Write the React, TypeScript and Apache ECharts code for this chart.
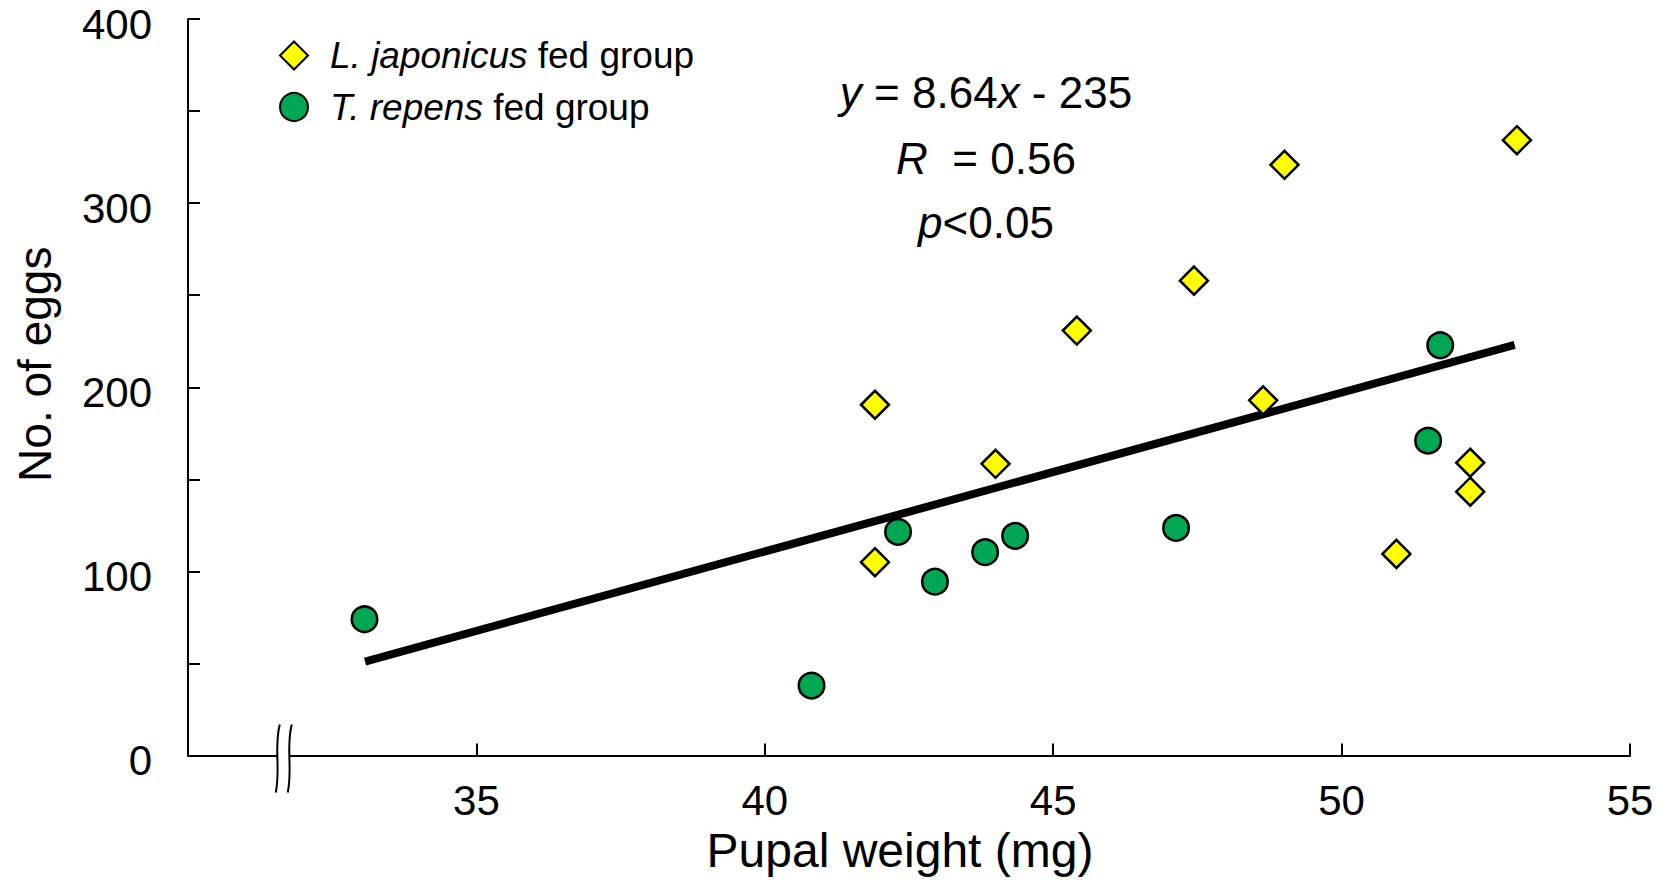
import React, { useEffect, useRef } from "react";
import * as echarts from "echarts";

// ---- Data ----
const japonicusX = [41.91, 41.91, 44.0, 45.41, 47.44, 48.64, 49.01, 50.95, 52.23, 52.23, 53.04];
const japonicusY = [190.5, 105.0, 158.4, 230.8, 257.9, 192.9, 320.8, 109.5, 159.0, 143.3, 334.2];
const repensX = [33.06, 40.81, 42.31, 42.95, 43.82, 44.34, 47.13, 51.5, 51.71];
const repensY = [74.0, 38.0, 121.5, 94.4, 110.4, 119.3, 123.6, 171.0, 222.8];
const fitLineX = [33.07, 53.0];
const fitLineY = [51, 223];
const seriesNames = ["L. japonicus fed group", "T. repens fed group"];
const italicParts = ["L. japonicus", "T. repens"];
const annotationLines = [
  "{i|y} = 8.64{i|x} - 235",
  "{i|R}  = 0.56",
  "{i|p}<0.05",
];
const xMin = 30;
const xMax = 55;
const xStep = 5;
const yMin = 0;
const yMax = 400;
const yStep = 50;
const yLabelStep = 100;
const breakAtX = 31.66;

const FONT = "'Liberation Sans', Arial, Helvetica, sans-serif";

export default function App() {
  const ref = useRef<HTMLDivElement>(null);

  useEffect(() => {
    document.body.style.margin = "0";
    const el = ref.current!;
    const chart = echarts.init(el, null, { renderer: "svg" });

    const pairs = (xs: number[], ys: number[]) => xs.map((x, i) => [x, ys[i]]);

    const option: any = {
      animation: false,
      backgroundColor: "#ffffff",
      textStyle: { fontFamily: FONT, color: "#000" },
      grid: { left: 188, right: 44, top: 19, bottom: 131.5, containLabel: false },
      legend: {
        data: seriesNames,
        orient: "vertical",
        left: 274,
        top: 32,
        itemWidth: 28,
        itemHeight: 28,
        itemGap: 14.5,
        selectedMode: false,
        formatter: (name: string) => {
          const idx = seriesNames.indexOf(name);
          const it = italicParts[idx];
          return "{i|" + it + "}" + name.slice(it.length);
        },
        textStyle: {
          fontFamily: FONT,
          fontSize: 37,
          color: "#000",
          padding: [0, 0, 0, 17],
          rich: {
            i: { fontStyle: "italic", fontSize: 37, fontFamily: FONT, color: "#000" },
          },
        },
      },
      xAxis: {
        type: "value",
        min: xMin,
        max: xMax,
        interval: xStep,
        name: "Pupal weight (mg)",
        nameLocation: "middle",
        nameGap: 68,
        nameTextStyle: { fontSize: 48, fontFamily: FONT, color: "#000", padding: [0, 18, 0, 0] },
        axisLine: { show: true, onZero: false, lineStyle: { color: "#000", width: 2 } },
        axisTick: { show: true, inside: true, length: 12, lineStyle: { color: "#000", width: 2 } },
        axisLabel: {
          fontSize: 42,
          fontFamily: FONT,
          color: "#000",
          margin: 24,
          formatter: (v: number) => (v === xMin ? "" : String(v)),
        },
        splitLine: { show: false },
      },
      yAxis: {
        type: "value",
        min: yMin,
        max: yMax,
        interval: yStep,
        name: "No. of eggs",
        nameLocation: "middle",
        nameGap: 130,
        nameTextStyle: { fontSize: 46, fontFamily: FONT, color: "#000", padding: [0, 0, 0, 46] },
        axisLine: { show: true, onZero: false, lineStyle: { color: "#000", width: 2 } },
        axisTick: { show: true, inside: true, length: 12, lineStyle: { color: "#000", width: 2 } },
        axisLabel: {
          fontSize: 42,
          fontFamily: FONT,
          color: "#000",
          margin: 36,
          verticalAlign: "top",
          lineHeight: 10,
          formatter: (v: number) => (v % yLabelStep === 0 ? String(v) : ""),
        },
        splitLine: { show: false },
      },
      series: [
        {
          name: "fit",
          type: "line",
          data: pairs(fitLineX, fitLineY),
          symbol: "none",
          lineStyle: { color: "#000", width: 8 },
          z: 1,
          silent: true,
        },
        {
          name: seriesNames[0],
          type: "scatter",
          symbol: "diamond",
          symbolSize: 28,
          data: pairs(japonicusX, japonicusY),
          itemStyle: { color: "#FFFF00", borderColor: "#000", borderWidth: 2.5, opacity: 1 },
          z: 3,
        },
        {
          name: seriesNames[1],
          type: "scatter",
          symbol: "circle",
          symbolSize: 25.5,
          data: pairs(repensX, repensY),
          itemStyle: { color: "#00A651", borderColor: "#000", borderWidth: 2.5, opacity: 1 },
          z: 3,
        },
      ],
    };

    chart.setOption(option);

    const [bx, by] = chart.convertToPixel({ gridIndex: 0 }, [breakAtX, 0]) as number[];
    const curve = (dx: number) => ({
      type: "bezierCurve",
      shape: {
        x1: bx + dx + 2,
        y1: by - 31,
        cpx1: bx + dx - 4,
        cpy1: by - 8,
        cpx2: bx + dx + 3,
        cpy2: by + 14,
        x2: bx + dx - 2,
        y2: by + 37,
      },
      style: { stroke: "#000", lineWidth: 2, fill: null },
      z: 10,
    });
    const rowY = [92, 158, 222];
    const cx = 986;

    chart.setOption({
      graphic: [
        {
          type: "rect",
          shape: { x: bx - 6, y: by - 4, width: 12, height: 8 },
          style: { fill: "#fff" },
          z: 9,
        },
        curve(-6),
        curve(6),
        ...annotationLines.map((t, i) => ({
          type: "text",
          x: cx,
          y: rowY[i],
          z: 10,
          style: {
            text: t,
            fontSize: 44,
            fontFamily: FONT,
            fill: "#000",
            align: "center",
            verticalAlign: "middle",
            rich: { i: { fontStyle: "italic", fontSize: 44, fontFamily: FONT, fill: "#000" } },
          },
        })),
      ],
    });

    return () => chart.dispose();
  }, []);

  return <div ref={ref} style={{ width: 1674, height: 887 }} />;
}
